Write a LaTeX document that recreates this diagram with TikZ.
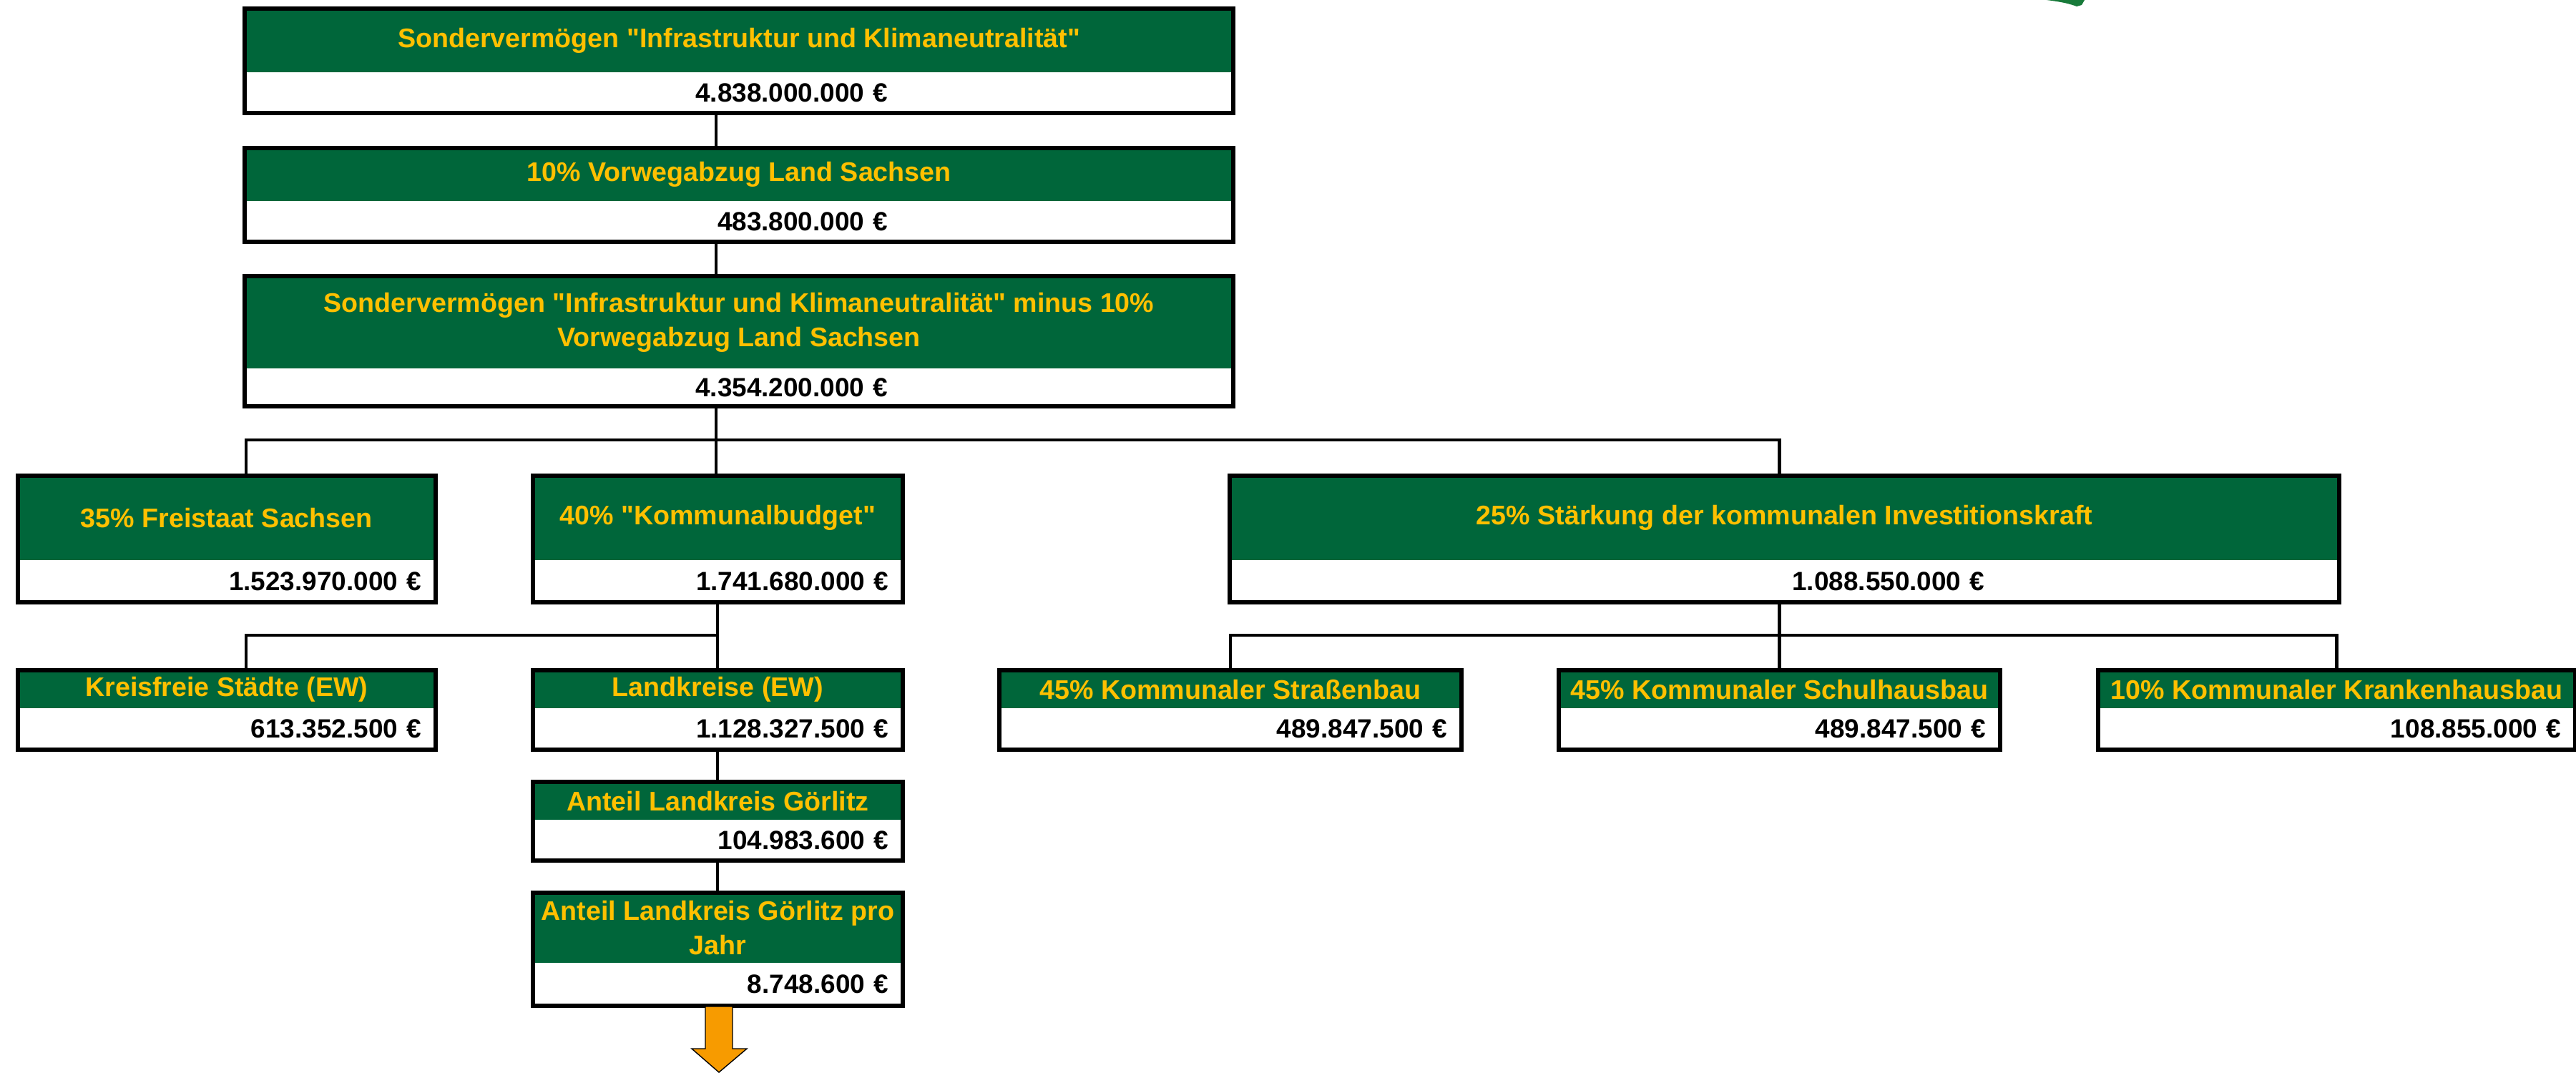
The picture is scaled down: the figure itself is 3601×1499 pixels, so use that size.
\documentclass[tikz,border=0pt]{standalone}
\usepackage{fontspec}
\setmainfont{Liberation Sans}[Ligatures=TeXOff]
\usepackage{tikz}
\usetikzlibrary{positioning}
\definecolor{sngreen}{RGB}{0,102,58}
\definecolor{sngold}{RGB}{255,192,0}
\definecolor{snorange}{RGB}{247,155,0}
\definecolor{snlogo}{RGB}{24,122,58}
\newcommand{\headfont}{\fontsize{10.7}{13.8}\selectfont\bfseries}
\newcommand{\sumfont}{\fontsize{10.5}{13.8}\selectfont\bfseries}

\begin{document}
\begin{tikzpicture}[x=0.01cm, y=-0.01cm,
  head/.style={fill=sngreen, text=sngold, font=\headfont, anchor=north west, inner sep=0pt, align=center},
  sum/.style={font=\sumfont, inner ysep=0pt, inner xsep=0.19cm, align=right},
  frame/.style={draw=black, line width=1.7pt},
  link/.style={line width=1.2pt}]
\useasboundingbox (0,0) rectangle (3601,1499);
\coordinate (mitte) at (1001,0);
\coordinate (links) at (344,0);
\coordinate (ast1) at (0,615);
\coordinate (ast2) at (0,888);

% Logo (angeschnitten)
\fill[snlogo] (2861,0) .. controls (2885,3) and (2895,6) .. (2903,9) -- (2910,7) -- (2914,0) -- cycle;

% Sondervermoegen gesamt
\node[head, minimum width=13.8cm, minimum height=0.88cm] (sv) at (342,12) {Sondervermögen "Infrastruktur und Klimaneutralität"};
\node[sum, below=0pt of sv, inner xsep=4.82cm, text width=4.16cm, minimum height=0.55cm] (svw) {4.838.000.000 €};
\draw[frame] (sv.north west) rectangle (svw.south east);

% Vorwegabzug
\node[head, minimum width=13.8cm, minimum height=0.73cm] (vorweg) at (342,207) {10\% Vorwegabzug Land Sachsen};
\node[sum, below=0pt of vorweg, inner xsep=4.82cm, text width=4.16cm, minimum height=0.55cm] (vorwegw) {483.800.000 €};
\draw[frame] (vorweg.north west) rectangle (vorwegw.south east);

% Rest nach Vorwegabzug
\node[head, minimum width=13.8cm, minimum height=1.28cm] (rest) at (342,386) {Sondervermögen "Infrastruktur und Klimaneutralität" minus 10\%\\Vorwegabzug Land Sachsen};
\node[sum, below=0pt of rest, inner xsep=4.82cm, text width=4.16cm, minimum height=0.51cm] (restw) {4.354.200.000 €};
\draw[frame] (rest.north west) rectangle (restw.south east);

% Aufteilung
\node[head, minimum width=5.82cm, minimum height=1.17cm] (frei) at (25,665) {35\% Freistaat Sachsen};
\node[sum, below=0pt of frei, text width=5.44cm, minimum height=0.57cm] (freiw) {1.523.970.000 €};
\draw[frame] (frei.north west) rectangle (freiw.south east);

\node[head, minimum width=5.15cm, minimum height=1.17cm] (komm) at (745,665) {40\% "Kommunalbudget"};
\node[sum, below=0pt of komm, text width=4.77cm, minimum height=0.57cm] (kommw) {1.741.680.000 €};
\draw[frame] (komm.north west) rectangle (kommw.south east);

\node[head, minimum width=15.49cm, minimum height=1.17cm] (stark) at (1719,665) {25\% Stärkung der kommunalen Investitionskraft};
\node[sum, below=0pt of stark, inner xsep=4.95cm, text width=5.59cm, minimum height=0.57cm] (starkw) {1.088.550.000 €};
\draw[frame] (stark.north west) rectangle (starkw.south east);

% Kommunalbudget
\node[head, minimum width=5.82cm, minimum height=0.52cm] (kreis) at (25,937) {Kreisfreie Städte (EW)};
\node[sum, below=0pt of kreis, text width=5.44cm, minimum height=0.56cm] (kreisw) {613.352.500 €};
\draw[frame] (kreis.north west) rectangle (kreisw.south east);

\node[head, minimum width=5.15cm, minimum height=0.52cm] (land) at (745,937) {Landkreise (EW)};
\node[sum, below=0pt of land, text width=4.77cm, minimum height=0.56cm] (landw) {1.128.327.500 €};
\draw[frame] (land.north west) rectangle (landw.south east);

\node[head, minimum width=5.15cm, minimum height=0.52cm] (goer) at (745,1093) {Anteil Landkreis Görlitz};
\node[sum, below=0pt of goer, text width=4.77cm, minimum height=0.55cm] (goerw) {104.983.600 €};
\draw[frame] (goer.north west) rectangle (goerw.south east);

\node[head, minimum width=5.15cm, minimum height=0.97cm] (jahr) at (745,1248) {Anteil Landkreis Görlitz pro\\Jahr};
\node[sum, below=0pt of jahr, text width=4.77cm, minimum height=0.58cm] (jahrw) {8.748.600 €};
\draw[frame] (jahr.north west) rectangle (jahrw.south east);

% Investitionskraft
\node[head, minimum width=6.44cm, minimum height=0.52cm] (strasse) at (1397,937) {45\% Kommunaler Straßenbau};
\node[sum, below=0pt of strasse, text width=6.06cm, minimum height=0.56cm] (strassew) {489.847.500 €};
\draw[frame] (strasse.north west) rectangle (strassew.south east);

\node[head, minimum width=6.15cm, minimum height=0.52cm] (schul) at (2179,937) {45\% Kommunaler Schulhausbau};
\node[sum, below=0pt of schul, text width=5.77cm, minimum height=0.56cm] (schulw) {489.847.500 €};
\draw[frame] (schul.north west) rectangle (schulw.south east);

\node[head, minimum width=6.65cm, minimum height=0.52cm] (krank) at (2933,937) {10\% Kommunaler Krankenhausbau};
\node[sum, below=0pt of krank, text width=6.27cm, minimum height=0.56cm] (krankw) {108.855.000 €};
\draw[frame] (krank.north west) rectangle (krankw.south east);

% Verbindungen
\draw[link] (svw.south -| mitte) -- (vorweg.north -| mitte);
\draw[link] (vorwegw.south -| mitte) -- (rest.north -| mitte);
\draw[link] (restw.south -| mitte) -- (komm.north -| mitte);
\draw[link] (links |- frei.north) |- (ast1 -| schul.north) -- (stark.north -| schul.north);
\draw[link] (kommw.south) -- (land.north);
\draw[link] (links |- kreis.north) |- (ast2 -| kommw.south);
\draw[link] (starkw.south -| schul.north) -- (schul.north);
\draw[link] (strasse.north) |- (ast2 -| krank.north) -- (krank.north);
\draw[link] (landw.south) -- (goer.north);
\draw[link] (goerw.south) -- (jahr.north);

% Pfeil
\filldraw[fill=snorange, draw=black, line width=0.4pt] (986,1407) -- (1024,1407) -- (1024,1466) -- (1044,1466) -- (1005,1499) -- (967,1466) -- (986,1466) -- cycle;
\end{tikzpicture}
\end{document}
